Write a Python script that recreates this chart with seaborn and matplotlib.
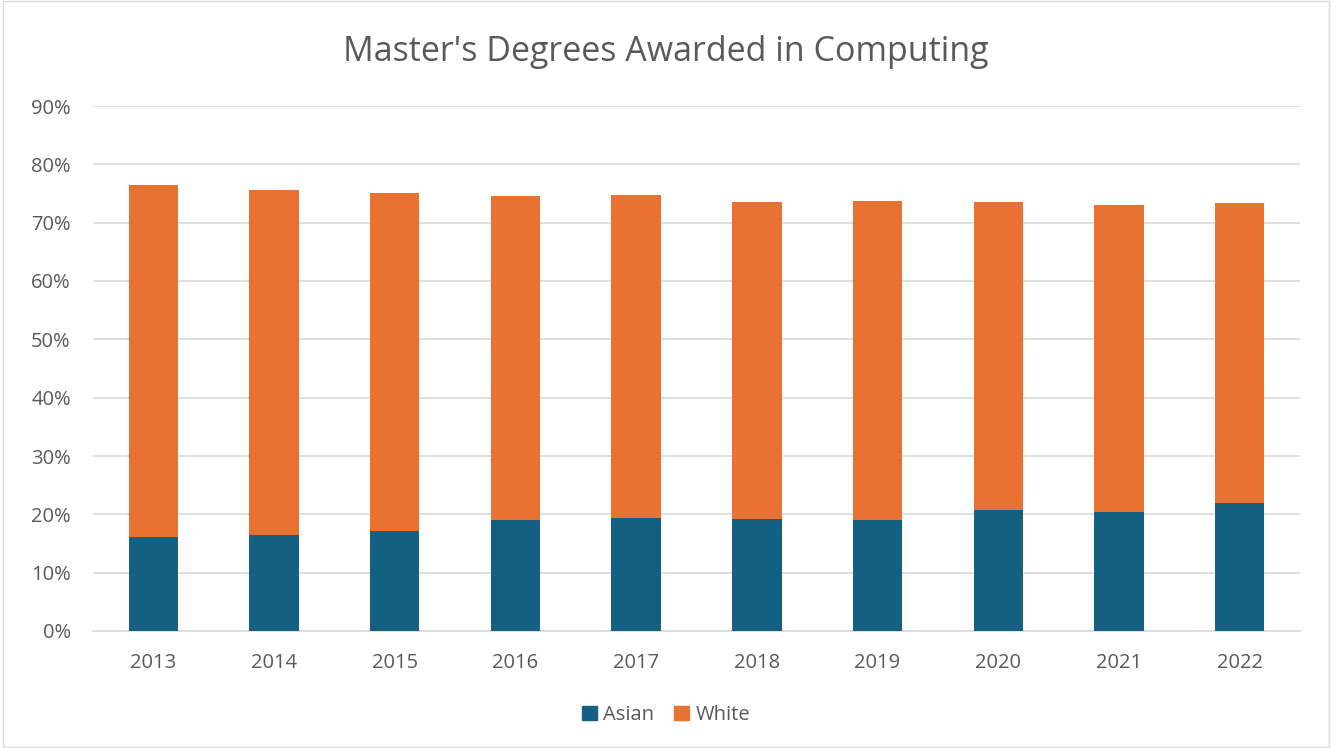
import pandas as pd
import numpy as np
import seaborn as sns
import matplotlib.pyplot as plt
from matplotlib.patches import Patch

# share of master's degrees in computing (in %)
years = ["2013", "2014", "2015", "2016", "2017", "2018", "2019", "2020", "2021", "2022"]
asian = [16.2, 16.4, 17.1, 19.0, 19.4, 19.2, 19.0, 20.7, 20.4, 21.9]
white = [60.2, 59.2, 58.0, 55.6, 55.4, 54.3, 54.7, 52.8, 52.7, 51.4]

df = pd.DataFrame({"year": years, "Asian": asian, "White": white})
df["total"] = df["Asian"] + df["White"]

c_asian = "#156082"
c_white = "#e97132"
grey = "#595959"

sns.set_theme(style="white")
plt.rcParams['font.family'] = ['Open Sans', 'DejaVu Sans']

fig = plt.figure(figsize=(13.32, 7.48), dpi=100)
ax = fig.add_axes([93/1332, 1-631/748, (1300-93)/1332, (631-106)/748])

# stacked bars: the total in orange, asian drawn over it
sns.barplot(data=df, x="year", y="total", color=c_white, width=0.41, saturation=1,
            linewidth=0, ax=ax, zorder=3)
sns.barplot(data=df, x="year", y="Asian", color=c_asian, width=0.41, saturation=1,
            linewidth=0, ax=ax, zorder=4)

ax.set_ylim(0, 90)
ax.set_yticks(np.arange(0, 91, 10))
ax.set_yticklabels([f"{v}%" for v in range(0, 91, 10)])
ax.yaxis.grid(True, color="#d9d9d9", linewidth=1.2, zorder=0)
ax.set_axisbelow(True)
for s in ax.spines.values():
    s.set_visible(False)
ax.spines["bottom"].set_visible(True)
ax.spines["bottom"].set_color("#d9d9d9")
ax.spines["bottom"].set_linewidth(1.2)
ax.set_xlabel("")
ax.set_ylabel("")
ax.tick_params(axis="both", length=0, labelsize=14.5, colors=grey)
ax.tick_params(axis="x", pad=16)
ax.tick_params(axis="y", pad=16)

fig.text(0.5, 1-52/748, "Master's Degrees Awarded in Computing", ha="center", va="center",
         fontsize=24.5, color=grey)

handles = [Patch(color=c_asian, label="Asian"), Patch(color=c_white, label="White")]
fig.legend(handles=handles, loc="center", bbox_to_anchor=(0.5, 1-715/748), ncol=2,
           frameon=False, fontsize=14.5, labelcolor=grey, handlelength=0.75, handleheight=0.75,
           handletextpad=0.3, columnspacing=1.0)

fig.patches.append(plt.Rectangle((0.002, 0.002), 0.996, 0.996, transform=fig.transFigure,
                                 fill=False, edgecolor="#d9d9d9", linewidth=1))

fig.savefig("out.png", dpi=100)
